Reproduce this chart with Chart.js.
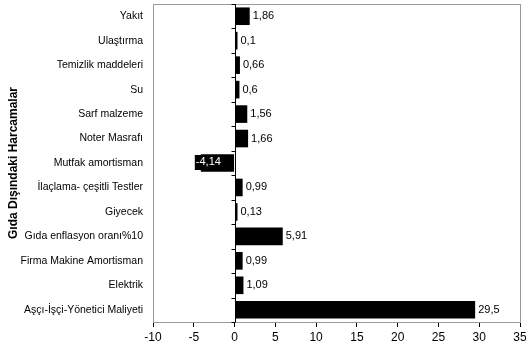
<!DOCTYPE html>
<html lang="tr">
<head>
  <meta charset="UTF-8" />
  <title>Gıda Dışındaki Harcamalar</title>
  <script src="https://cdn.jsdelivr.net/npm/chart.js"></script>
  <style>
    body { margin: 0; background: #fff; }
    #wrap { width: 526px; height: 351px; }
  </style>
</head>
<body>
  <div id="wrap"><canvas id="chart"></canvas></div>
  <script>
    const categories = [
      'Yakıt', 'Ulaştırma', 'Temizlik maddeleri', 'Su', 'Sarf malzeme', 'Noter Masrafı',
      'Mutfak amortisman', 'İlaçlama- çeşitli Testler', 'Giyecek', 'Gıda enflasyon oranı%10',
      'Firma Makine Amortisman', 'Elektrik', 'Aşçı-İşçi-Yönetici Maliyeti'
    ];
    const values = [1.86, 0.1, 0.66, 0.6, 1.56, 1.66, -4.14, 0.99, 0.13, 5.91, 0.99, 1.09, 29.5];
    const axisTitle = 'Gıda Dışındaki Harcamalar';
    const xMin = -10, xMax = 35, xStep = 5;

    const FONT = '"Liberation Sans", Arial, sans-serif';

    // frame, zero axis with category ticks, value labels
    const extras = {
      id: 'extras',
      beforeDatasetsDraw(chart) {
        const { ctx, chartArea: a } = chart;
        ctx.save();
        ctx.strokeStyle = '#9a9a9a';
        ctx.lineWidth = 1;
        ctx.strokeRect(a.left + 0.5, a.top + 0.5, a.right - a.left, a.bottom - a.top);
        ctx.restore();
      },
      afterDatasetsDraw(chart) {
        const { ctx, chartArea: a, scales: { x } } = chart;
        const x0 = Math.round(x.getPixelForValue(0)) + 0.5;
        ctx.save();
        ctx.strokeStyle = '#000';
        ctx.lineWidth = 1;
        ctx.beginPath();
        ctx.moveTo(x0, a.top);
        ctx.lineTo(x0, a.bottom);
        const n = categories.length;
        for (let i = 0; i <= n; i++) {
          const y = Math.round(a.top + i * (a.bottom - a.top) / n) + 0.5;
          ctx.moveTo(x0 - 4, y);
          ctx.lineTo(x0, y);
        }
        ctx.stroke();

        ctx.font = '11px ' + FONT;
        ctx.textBaseline = 'middle';
        const meta = chart.getDatasetMeta(0);
        meta.data.forEach((bar, i) => {
          const v = values[i];
          const txt = String(v).replace('.', ',');
          if (v >= 0) {
            // very small values still get a thin visible bar
            if (bar.x - x0 < 2) {
              ctx.fillStyle = '#000';
              ctx.fillRect(x0, bar.y - bar.height / 2, 2, bar.height);
            }
            ctx.fillStyle = '#000';
            ctx.textAlign = 'left';
            ctx.fillText(txt, Math.max(bar.x, x0 + 2) + 3, bar.y);
          } else {
            const w = ctx.measureText(txt).width;
            const tx = bar.x - 5;
            ctx.fillStyle = '#000';
            ctx.fillRect(tx - 1, bar.y - 8, w + 3, 15);
            ctx.fillStyle = '#fff';
            ctx.textAlign = 'left';
            ctx.fillText(txt, tx, bar.y - 1);
          }
        });
        ctx.restore();
      }
    };

    new Chart(document.getElementById('chart'), {
      type: 'bar',
      data: {
        labels: categories,
        datasets: [{
          data: values,
          backgroundColor: '#000',
          borderWidth: 0,
          barPercentage: 0.72,
          categoryPercentage: 1
        }]
      },
      options: {
        indexAxis: 'y',
        responsive: true,
        maintainAspectRatio: false,
        animation: false,
        layout: { padding: { top: 4, right: 6, left: 0, bottom: 0 } },
        plugins: { legend: { display: false }, tooltip: { enabled: false } },
        scales: {
          x: {
            min: xMin,
            max: xMax,
            ticks: {
              stepSize: xStep,
              color: '#000',
              font: { family: FONT, size: 12 },
              padding: 3
            },
            grid: { drawOnChartArea: false, drawTicks: true, tickLength: 5, color: '#000' },
            border: { color: '#000' },
            afterFit(s) { s.height = 29; s.paddingLeft = 0; s.paddingRight = 0; }
          },
          y: {
            ticks: {
              color: '#000',
              font: { family: FONT, size: 10.5 },
              padding: 2,
              autoSkip: false
            },
            grid: { display: false },
            border: { color: '#9a9a9a' },
            title: {
              display: true,
              text: axisTitle,
              color: '#000',
              font: { family: FONT, size: 12, weight: 'bold' },
              padding: { top: 6, bottom: 4 }
            },
            afterFit(s) { s.width = 153; s.paddingTop = 0; s.paddingBottom = 0; }
          }
        }
      },
      plugins: [extras]
    });
  </script>
</body>
</html>
